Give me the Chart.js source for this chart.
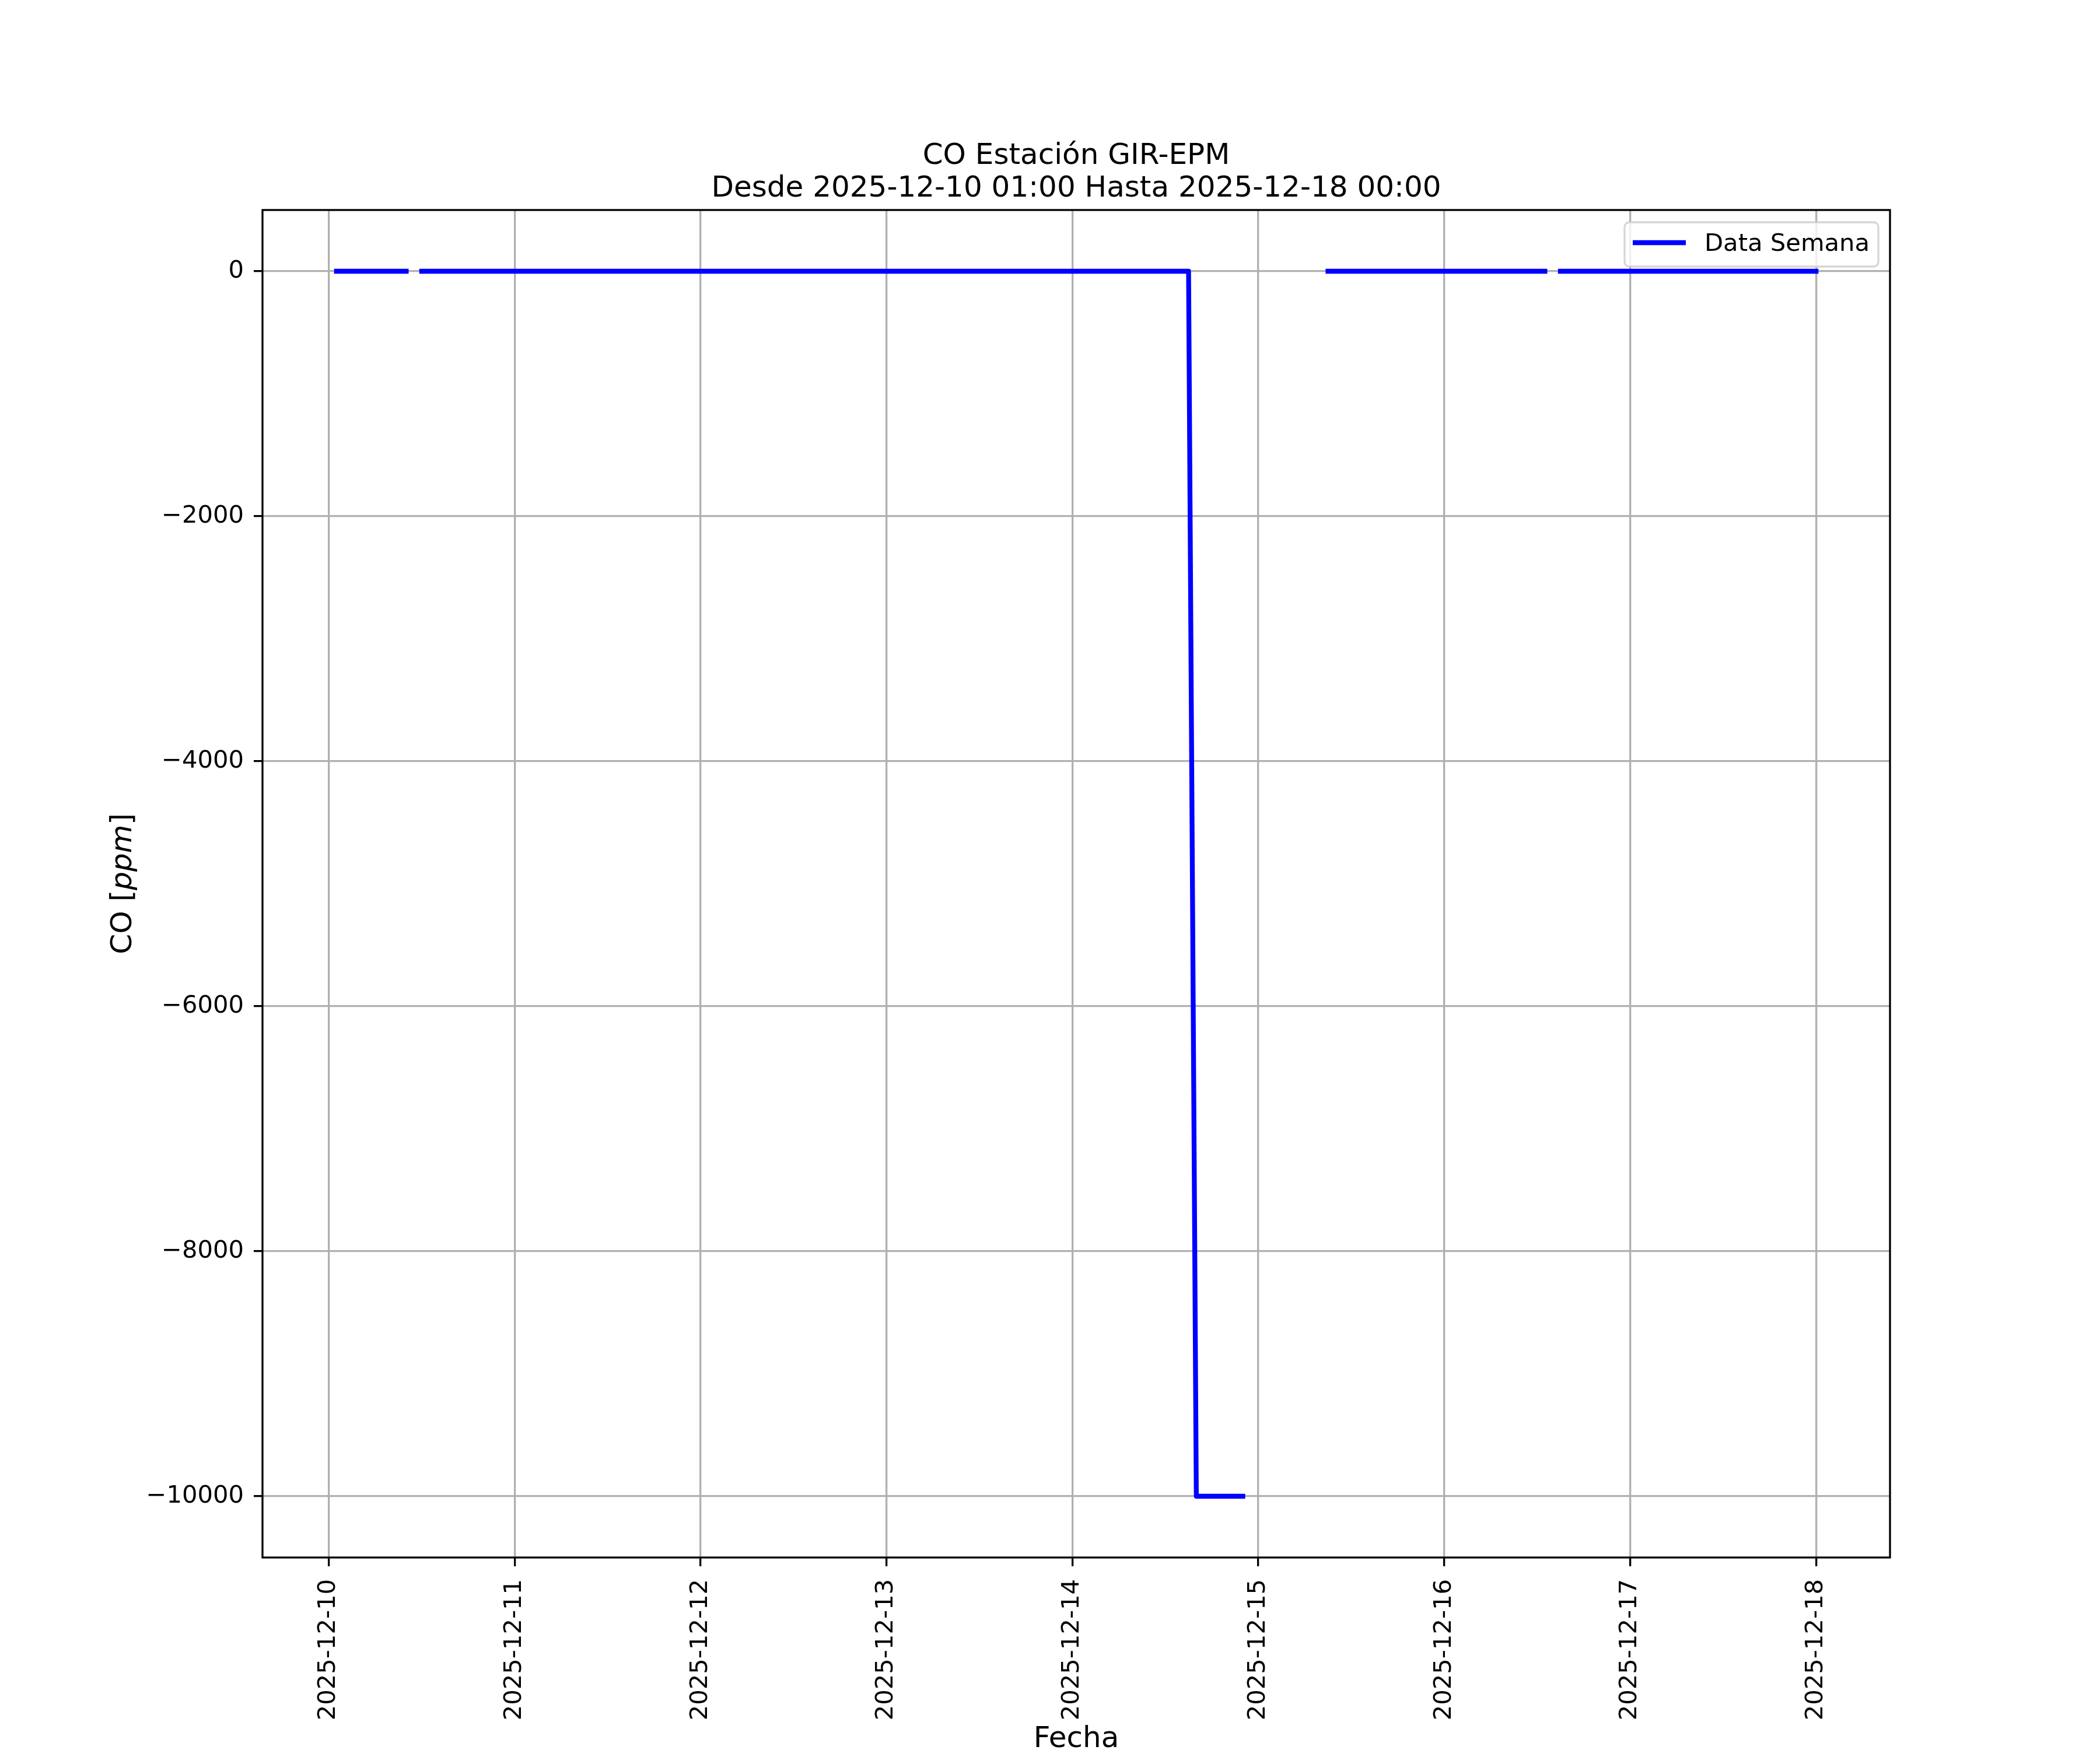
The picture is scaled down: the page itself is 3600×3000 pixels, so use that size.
<!DOCTYPE html>
<html><head><meta charset="utf-8">
<script src="https://cdn.jsdelivr.net/npm/chart.js@4.4.1/dist/chart.umd.min.js"></script>
<style>html,body{margin:0;padding:0;background:#fff;} canvas{display:block;}</style>
</head><body>
<canvas id="c" width="3600" height="3000" style="width:3600px;height:3000px"></canvas>
<script>
// ---- data ----
const titleLines = ["CO Estación GIR-EPM", "Desde 2025-12-10 01:00 Hasta 2025-12-18 00:00"];
const seriesName = "Data Semana";
const xAxisTitle = "Fecha";
const times  = ["2025-12-10 01:00","2025-12-10 10:00","2025-12-10 11:00","2025-12-10 12:00",
                "2025-12-14 15:00","2025-12-14 16:00","2025-12-14 22:00","2025-12-14 23:00",
                "2025-12-15 09:00","2025-12-16 13:00","2025-12-16 14:00","2025-12-16 15:00",
                "2025-12-18 00:00"];
const values = [0, 0, null, 0,
                0, -10000, -10000, null,
                0, 0, null, 0,
                0];
const xTickLabels = ["2025-12-10","2025-12-11","2025-12-12","2025-12-13","2025-12-14",
                     "2025-12-15","2025-12-16","2025-12-17","2025-12-18"];
const yTickValues = [0, -2000, -4000, -6000, -8000, -10000];

// ---- helpers ----
const toMs = s => Date.parse(s.replace(' ', 'T') + ':00Z');
const xs = times.map(toMs);
const xTickMs = xTickLabels.map(d => Date.parse(d + 'T00:00:00Z'));
const xMinD = Math.min(...xs), xMaxD = Math.max(...xs);
const xPad = 0.05 * (xMaxD - xMinD);
const yv = values.filter(v => v !== null);
const yMinD = Math.min(...yv), yMaxD = Math.max(...yv);
const yPad = 0.05 * (yMaxD - yMinD);
const fmtY = v => v < 0 ? '\u2212' + Math.abs(v) : String(v);

const FONT = '"DejaVu Sans"';
Chart.defaults.font.family = 'DejaVu Sans';
Chart.defaults.color = '#000';

const deco = {
  id: 'deco',
  afterDraw(chart) {
    const ctx = chart.ctx, a = chart.chartArea;
    ctx.save();
    // spines
    ctx.strokeStyle = '#000'; ctx.lineWidth = 3.3;
    ctx.strokeRect(a.left, a.top, a.right - a.left, a.bottom - a.top);
    // title
    const cx = (a.left + a.right) / 2;
    ctx.fillStyle = '#000';
    ctx.font = '50px ' + FONT;
    ctx.textAlign = 'center'; ctx.textBaseline = 'alphabetic';
    ctx.fillText(titleLines[0], cx, a.top - 79);
    ctx.fillText(titleLines[1], cx, a.top - 23);
    // x axis title
    ctx.fillText(xAxisTitle, cx, a.bottom + 325);
    // y axis title: "CO [ppm]" with italic ppm
    const parts = [["CO ", 'normal'], ["[", 'normal'], ["ppm", 'italic'], ["]", 'normal']];
    let total = 0;
    const widths = parts.map(([t, st]) => { ctx.font = st + ' 50px ' + FONT; const w = ctx.measureText(t).width; total += w; return w; });
    ctx.translate(a.left - 225, (a.top + a.bottom) / 2);
    ctx.rotate(-Math.PI / 2);
    ctx.textAlign = 'left';
    let px = -total / 2;
    parts.forEach(([t, st], i) => { ctx.font = st + ' 50px ' + FONT; ctx.fillText(t, px, 0); px += widths[i]; });
    ctx.setTransform(1, 0, 0, 1, 0, 0);
    // legend
    const bx = a.right - 455, by = a.top + 21, bw = 435, bh = 76, r = 8;
    ctx.beginPath();
    ctx.moveTo(bx + r, by);
    ctx.arcTo(bx + bw, by, bx + bw, by + bh, r);
    ctx.arcTo(bx + bw, by + bh, bx, by + bh, r);
    ctx.arcTo(bx, by + bh, bx, by, r);
    ctx.arcTo(bx, by, bx + bw, by, r);
    ctx.closePath();
    ctx.fillStyle = 'rgba(255,255,255,0.8)';
    ctx.fill();
    ctx.strokeStyle = 'rgba(204,204,204,0.8)';
    ctx.lineWidth = 3.3;
    ctx.stroke();
    ctx.beginPath();
    ctx.strokeStyle = '#0000ff'; ctx.lineWidth = 8.3; ctx.lineCap = 'butt';
    ctx.moveTo(bx + 14, by + 35); ctx.lineTo(bx + 105, by + 35);
    ctx.stroke();
    ctx.fillStyle = '#000'; ctx.font = '41.7px ' + FONT;
    ctx.textAlign = 'left'; ctx.textBaseline = 'alphabetic';
    ctx.fillText(seriesName, bx + 137, by + 49);
    ctx.restore();
  }
};

new Chart(document.getElementById('c'), {
  type: 'line',
  data: {
    datasets: [{
      label: seriesName,
      data: xs.map((x, i) => ({ x: x, y: values[i] })),
      borderColor: '#0000ff',
      backgroundColor: '#0000ff',
      borderWidth: 8.3,
      borderCapStyle: 'square',
      borderJoinStyle: 'round',
      pointRadius: 0,
      pointHoverRadius: 0,
      spanGaps: false,
      tension: 0,
      fill: false
    }]
  },
  options: {
    responsive: false,
    devicePixelRatio: 1,
    animation: false,
    events: [],
    layout: { padding: { left: 0, right: 360, top: 360, bottom: 0 } },
    plugins: { legend: { display: false }, tooltip: { enabled: false }, title: { display: false } },
    scales: {
      x: {
        type: 'linear',
        min: xMinD - xPad,
        max: xMaxD + xPad,
        afterBuildTicks: s => { s.ticks = xTickMs.map(v => ({ value: v })); },
        afterFit: s => { s.height = 330; },
        border: { display: false },
        grid: { color: '#b0b0b0', lineWidth: 3.3, tickColor: '#000', tickWidth: 3.3, tickLength: 15, drawTicks: true },
        ticks: {
          minRotation: 90, maxRotation: 90, autoSkip: false, padding: 22,
          font: { size: 41.7, family: 'DejaVu Sans' }, color: '#000',
          callback: (v, i) => xTickLabels[i]
        }
      },
      y: {
        type: 'linear',
        min: yMinD - yPad,
        max: yMaxD + yPad,
        afterBuildTicks: s => { s.ticks = yTickValues.map(v => ({ value: v })); },
        afterFit: s => { s.width = 450; },
        border: { display: false },
        grid: { color: '#b0b0b0', lineWidth: 3.3, tickColor: '#000', tickWidth: 3.3, tickLength: 15, drawTicks: true },
        ticks: {
          padding: 17, autoSkip: false,
          font: { size: 41.7, family: 'DejaVu Sans' }, color: '#000',
          callback: (v) => fmtY(v)
        }
      }
    }
  },
  plugins: [deco]
});
</script>
</body></html>
